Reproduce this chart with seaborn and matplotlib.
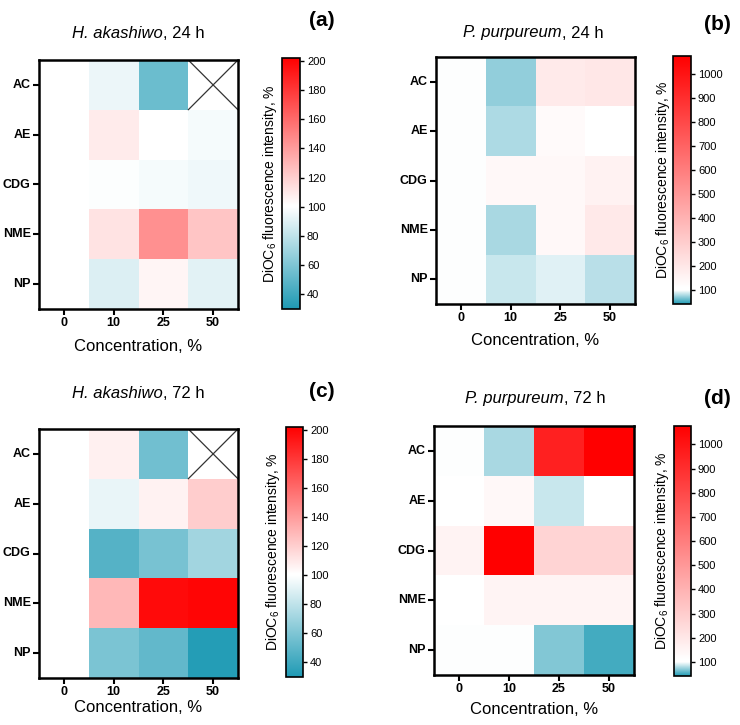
import numpy as np
import pandas as pd
import matplotlib
matplotlib.use("Agg")
import matplotlib.pyplot as plt
from matplotlib.colors import LinearSegmentedColormap
import seaborn as sns

sns.set_theme(style="white")
plt.rcParams['font.family'] = ['Liberation Sans', 'DejaVu Sans']
plt.rcParams['mathtext.fontset'] = 'custom'
plt.rcParams['mathtext.rm'] = 'Liberation Sans'
plt.rcParams['mathtext.it'] = 'Liberation Sans:italic'
plt.rcParams['mathtext.bf'] = 'Liberation Sans:bold'
for k in ['text.color', 'axes.labelcolor', 'xtick.color', 'ytick.color']:
    plt.rcParams[k] = 'black'

# ---------------- data ----------------
extracts = ["AC", "AE", "CDG", "NME", "NP"]
concentrations = ["0", "10", "25", "50"]

ha_24h = [[100, 94, 54, np.nan],
          [100, 109, 100, 97],
          [100, 99, 97, 95],
          [100, 112, 145, 124],
          [100, 89, 105, 91]]
pp_24h = [[100, 72, 188, 203],
          [100, 79, 130, 105],
          [100, 135, 135, 160],
          [100, 78, 135, 195],
          [100, 86, 92, 82]]
ha_72h = [[100, 107, 56, np.nan],
          [100, 93, 106, 121],
          [100, 47, 58, 71],
          [100, 129, 198, 200],
          [100, 59, 51, 32]]
pp_72h = [[100, 78, 954, 1076],
          [112, 135, 86, 110],
          [157, 1076, 272, 272],
          [110, 153, 153, 153],
          [100, 100, 68, 52]]

species = ["H. akashiwo", "P. purpureum", "H. akashiwo", "P. purpureum"]
times = ["24 h", "24 h", "72 h", "72 h"]
panel_labels = ["(a)", "(b)", "(c)", "(d)"]
ha_ticks = [40, 60, 80, 100, 120, 140, 160, 180, 200]
pp_ticks = [100, 200, 300, 400, 500, 600, 700, 800, 900, 1000]

TEAL, WHITE, RED = "#1e9ab4", "#ffffff", "#ff0000"

W, H = 740, 725
fig = plt.figure(figsize=(W / 100, H / 100), dpi=100)
renderer = fig.canvas.get_renderer()

def frac(x0, y0, x1, y1):
    return [x0 / W, 1 - y1 / H, (x1 - x0) / W, (y1 - y0) / H]

panels = [
    dict(data=ha_24h, ax=(39, 60, 238, 309), cax=(282, 58, 300, 309),
         rng=(30, 100, 202), white_w=1, ticks=ha_ticks, title=(138, 33), lab=(322, 20),
         xl=347, cbl=270),
    dict(data=pp_24h, ax=(436, 57, 635, 304), cax=(673, 56, 691, 304),
         rng=(42, 100, 1076), white_w=10, ticks=pp_ticks, title=(533, 33), lab=(717, 25),
         xl=340, cbl=663),
    dict(data=ha_72h, ax=(39, 429, 238, 678), cax=(286, 427, 303, 677),
         rng=(30, 100, 202), white_w=1, ticks=ha_ticks, title=(138, 393), lab=(322, 392),
         xl=707, cbl=273),
    dict(data=pp_72h, ax=(434, 426, 634, 675), cax=(674, 426, 691, 676),
         rng=(42, 100, 1076), white_w=10, ticks=pp_ticks, title=(535, 399), lab=(717, 399),
         xl=710, cbl=662),
]

for i, p in enumerate(panels):
    ax = fig.add_axes(frac(*p["ax"]))
    cax = fig.add_axes(frac(*p["cax"]))
    df = pd.DataFrame(p["data"], index=extracts, columns=concentrations)
    vmin, vc, vmax = p["rng"]
    span = vmax - vmin
    p0 = (vc - vmin) / span
    p1 = (vc + p["white_w"] - vmin) / span
    cmap = LinearSegmentedColormap.from_list(
        "tw_r%d" % i, [(0.0, TEAL), (p0, WHITE), (p1, WHITE), (1.0, RED)], N=2048)
    sns.heatmap(df, ax=ax, cmap=cmap, vmin=vmin, vmax=vmax,
                cbar_ax=cax, cbar_kws=dict(ticks=p["ticks"]))
    # cross for missing cells
    for r, c in np.argwhere(np.isnan(df.values)):
        ax.plot([c, c + 1], [r, r + 1], color="#333333", lw=0.9)
        ax.plot([c, c + 1], [r + 1, r], color="#333333", lw=0.9)
    for s in ax.spines.values():
        s.set_visible(True)
        s.set_linewidth(1.8)
        s.set_color("black")
    ax.tick_params(axis="both", length=4, width=1.5, color="black", pad=2,
                   left=True, bottom=True)
    ax.set_yticklabels(extracts, rotation=0, fontsize=9, fontweight="bold")
    ax.set_xticklabels(concentrations, rotation=0, fontsize=9, fontweight="bold")
    ax.set_xlabel("")
    ax.set_ylabel("")
    # colorbar styling
    cax.tick_params(labelsize=8, length=3, width=1, color="black", pad=2, right=True)
    cb = ax.collections[0].colorbar
    cb.outline.set_visible(True)
    cb.outline.set_linewidth(1.2)
    cb.outline.set_edgecolor("black")
    # title: italic species + regular time, centred as a whole
    fs = 12
    t1 = fig.text(0, 0, species[i], style="italic", fontsize=fs, va="center", ha="left")
    t2 = fig.text(0, 0, ", " + times[i], fontsize=fs, va="center", ha="left")
    w1 = t1.get_window_extent(renderer).width
    w2 = t2.get_window_extent(renderer).width
    x0 = p["title"][0] - (w1 + w2) / 2
    yt = 1 - p["title"][1] / H
    t1.set_position((x0 / W, yt))
    t2.set_position(((x0 + w1) / W, yt))
    fig.text(p["lab"][0] / W, 1 - p["lab"][1] / H, panel_labels[i],
             ha="center", va="center", fontsize=15, fontweight="bold")
    axc = (p["ax"][0] + p["ax"][2]) / 2
    fig.text(axc / W, 1 - p["xl"] / H, "Concentration, %", ha="center", va="center",
             fontsize=12)
    cyc = (p["cax"][1] + p["cax"][3]) / 2
    fig.text(p["cbl"] / W, 1 - cyc / H, r"DiOC$_6$ fluorescence intensity, %",
             ha="center", va="center", rotation=90, fontsize=10)

fig.savefig("out.png", dpi=100, facecolor="white")
